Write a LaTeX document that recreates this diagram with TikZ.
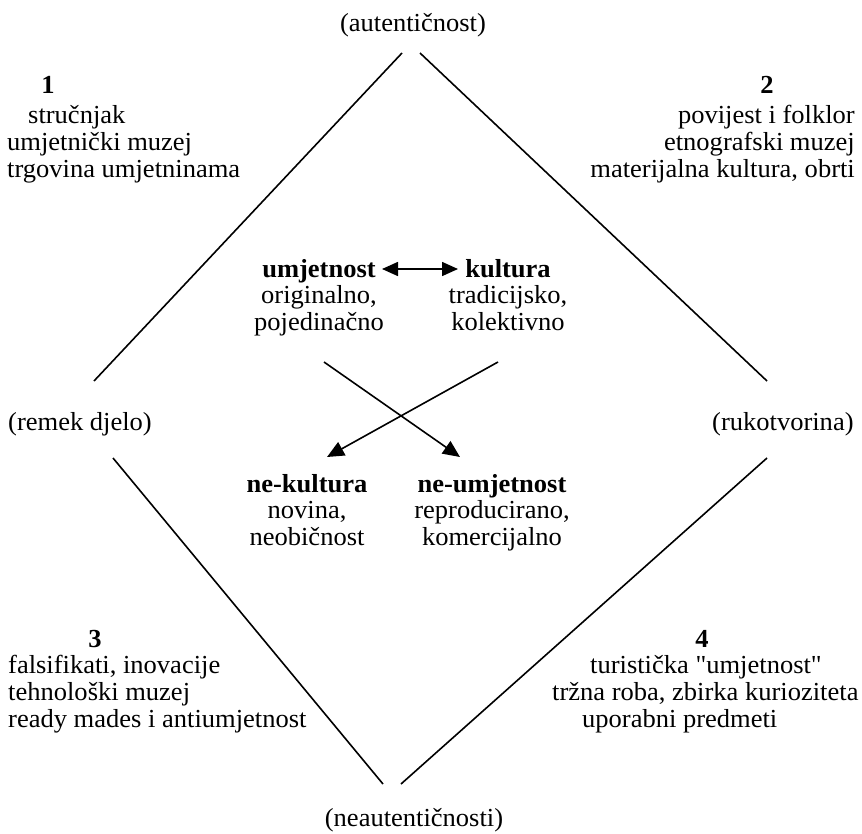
\documentclass[tikz,border=0pt]{standalone}
\usepackage{fontspec}
\setmainfont{Liberation Serif}[FakeStretch=1.02]
\font\qfont="Liberation Serif:extend=1.02" at 26pt
\newcommand{\sq}{{\qfont\char"22}}
\usetikzlibrary{arrows.meta}
\tikzset{
  txt/.style={inner sep=0pt, font=\fontsize{26}{26.5}\selectfont},
  lbl/.style={txt, anchor=base},
  lw/.style={txt, anchor=base west},
  le/.style={txt, anchor=base east},
  blk/.style={txt, anchor=base, align=center},
  edge/.style={line width=1.6pt},
  arr/.style={line width=1.6pt, -{Triangle[length=17pt,width=15pt]}},
  darr/.style={line width=1.6pt, {Triangle[length=16pt,width=14pt]}-{Triangle[length=16pt,width=14pt]}}
}
\begin{document}
\begin{tikzpicture}[x=1pt,y=-1pt]
\useasboundingbox (0,0) rectangle (862,833);
% diamond edges
\coordinate (tl) at (402,53);
\coordinate (tr) at (420,53);
\coordinate (lu) at (94,381);
\coordinate (ru) at (767,381);
\coordinate (ll) at (113,458);
\coordinate (rl) at (767,458);
\coordinate (bl) at (383,784);
\coordinate (br) at (401,784);
\draw[edge] (lu) -- (tl);
\draw[edge] (tr) -- (ru);
\draw[edge] (ll) -- (bl);
\draw[edge] (br) -- (rl);
% vertex labels
\node[lbl] (aut) at (413,31) {(autentičnost)};
\node[lw] (rem) at (8,430) {(remek djelo)};
\node[lw] (ruk) at (712,430) {(rukotvorina)};
\node[lbl] (neaut) at (414,826) {(neautentičnosti)};
% corner blocks
\node[lbl] (n1) at (48,93) {\textbf{1}};
\node[lw] (c1a) at (28,123) {stručnjak};
\node[lw] (c1b) at (7,150) {umjetnički muzej};
\node[lw] (c1c) at (7,177) {trgovina umjetninama};
\node[lbl] (n2) at (767,93) {\textbf{2}};
\node[le] (c2a) at (855,123) {povijest i folklor};
\node[le] (c2b) at (855,150) {etnografski muzej};
\node[le] (c2c) at (855,177) {materijalna kultura, obrti};
\node[lbl] (n3) at (95,647) {\textbf{3}};
\node[lw] (c3a) at (8,673) {falsifikati, inovacije};
\node[lw] (c3b) at (8,700) {tehnološki muzej};
\node[lw] (c3c) at (8,727) {ready mades i antiumjetnost};
\node[lbl] (n4) at (702,647) {\textbf{4}};
\node[lw] (c4a) at (590,673) {turistička \sq umjetnost\sq};
\node[lw] (c4b) at (552,700) {tržna roba, zbirka kurioziteta};
\node[lw] (c4c) at (582,727) {uporabni predmeti};
% centre blocks (base anchor = last line)
\node[blk] (umj) at (319,330) {\textbf{umjetnost}\\originalno,\\pojedinačno};
\node[blk] (kul) at (508,330) {\textbf{kultura}\\tradicijsko,\\kolektivno};
\node[blk] (nekul) at (307,545) {\textbf{ne-kultura}\\novina,\\neobičnost};
\node[blk] (neumj) at (492,545) {\textbf{ne-umjetnost}\\reproducirano,\\komercijalno};
% arrows
\coordinate (da) at (382,269);
\coordinate (db) at (458,269);
\draw[darr] (da) -- (db);
\coordinate (x1s) at (324,362);
\coordinate (x1e) at (460,457);
\coordinate (x2s) at (498,362);
\coordinate (x2e) at (327,457);
\draw[arr] (x1s) -- (x1e);
\draw[arr] (x2s) -- (x2e);
\end{tikzpicture}
\end{document}
